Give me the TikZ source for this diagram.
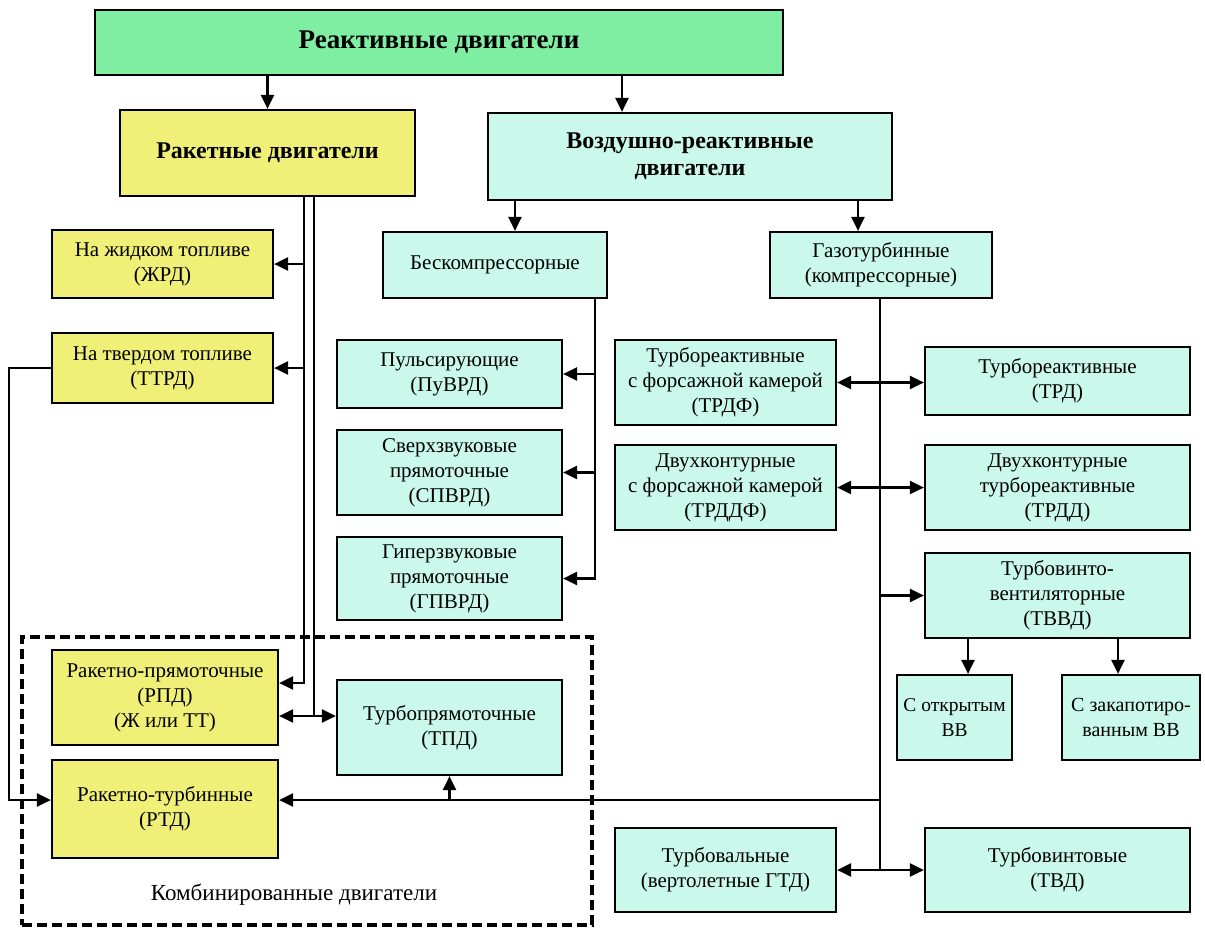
\documentclass[tikz,border=0pt]{standalone}
\usepackage{fontspec}
\setmainfont{Liberation Serif}
\usepackage{xcolor}
\definecolor{headgreen}{RGB}{128,238,162}
\definecolor{rockyellow}{RGB}{240,240,120}
\definecolor{airaqua}{RGB}{202,248,234}
\usetikzlibrary{arrows.meta,positioning,calc}
\tikzset{
  basebox/.style={draw, line width=2.2pt, align=center,
    inner sep=1pt, font=\fontsize{21}{25}\selectfont},
  yelbox/.style={basebox, fill=rockyellow},
  aquabox/.style={basebox, fill=airaqua},
  boldtxt/.style={font=\fontsize{24}{27}\selectfont\bfseries},
  arr/.style={-{Triangle[length=14pt,width=13pt]}, line width=2.3pt},
  darr/.style={{Triangle[length=14pt,width=13pt]}-{Triangle[length=14pt,width=13pt]}, line width=2.3pt},
  lin/.style={line width=2.3pt},
}

\begin{document}
\begin{tikzpicture}[x=1pt, y=-1pt]
  \useasboundingbox (0,0) rectangle (1205,927);

  % Main levels
  \node[basebox, fill=headgreen, minimum width=688, minimum height=65,
        font=\fontsize{27}{30}\selectfont\bfseries] (react) at (439,42.5)
    {Реактивные двигатели};
  \node[yelbox, boldtxt, minimum width=295, minimum height=86]
    (rocket) at (267.5,153) {Ракетные двигатели};
  \node[aquabox, boldtxt, minimum width=404, minimum height=87]
    (air) at (690,156.5) {Воздушно-реактивные\\двигатели};
  \node[aquabox, minimum width=224, minimum height=66] (nocomp) at (495,265)
    {Бескомпрессорные};
  \node[aquabox, minimum width=222, minimum height=66] (gasturb) at (881,265)
    {Газотурбинные\\(компрессорные)};

  % Rocket engines
  \node[yelbox, minimum width=221, minimum height=68] (zhrd) at (162.5,264)
    {На жидком топливе\\(ЖРД)};
  \node[yelbox, minimum width=221, minimum height=70] (ttrd) at (162.5,368)
    {На твердом топливе\\(ТТРД)};

  % Compressorless engines
  \node[aquabox, minimum width=225, minimum height=68] (puvrd) at (449.5,374)
    {Пульсирующие\\(ПуВРД)};
  \node[aquabox, minimum width=225, minimum height=85] (spvrd) at (449.5,472.5)
    {Сверхзвуковые\\прямоточные\\(СПВРД)};
  \node[aquabox, minimum width=225, minimum height=83] (gpvrd) at (449.5,578.5)
    {Гиперзвуковые\\прямоточные\\(ГПВРД)};

  % Gas turbine engines
  \node[aquabox, minimum width=221, minimum height=85] (trdf) at (725.5,382.5)
    {Турбореактивные\\с форсажной камерой\\(ТРДФ)};
  \node[aquabox, minimum width=265, minimum height=68] (trd) at (1057.5,381)
    {Турбореактивные\\(ТРД)};
  \node[aquabox, minimum width=221, minimum height=85] (trddf) at (725.5,487.5)
    {Двухконтурные\\с форсажной камерой\\(ТРДДФ)};
  \node[aquabox, minimum width=265, minimum height=85] (trdd) at (1057.5,487.5)
    {Двухконтурные\\турбореактивные\\(ТРДД)};
  \node[aquabox, minimum width=265, minimum height=85] (tvvd) at (1057.5,595.5)
    {Турбовинто-\\вентиляторные\\(ТВВД)};
  \node[aquabox, minimum width=115, minimum height=85,
        font=\fontsize{19.5}{25}\selectfont] (openfan) at (954.5,717.5)
    {С открытым\\ВВ};
  \node[aquabox, minimum width=138, minimum height=85,
        font=\fontsize{20}{25}\selectfont] (ductfan) at (1131,717.5)
    {С закапотиро-\\ванным ВВ};
  \node[aquabox, minimum width=221, minimum height=84] (tval) at (725.5,870)
    {Турбовальные\\(вертолетные ГТД)};
  \node[aquabox, minimum width=265, minimum height=84] (tvint) at (1057.5,870)
    {Турбовинтовые\\(ТВД)};

  % Combined engines
  \node[draw, line width=3.5pt, dash pattern=on 10pt off 5pt,
        minimum width=570, minimum height=288] (comb) at (307,781) {};
  \node[font=\fontsize{23}{27}\selectfont] (combtxt) at (294,895)
    {Комбинированные двигатели};
  \node[yelbox, minimum width=226, minimum height=95] (rpd) at (165,697.5)
    {Ракетно-прямоточные\\(РПД)\\(Ж или ТТ)};
  \node[aquabox, minimum width=225, minimum height=95] (tpd) at (449.5,727.5)
    {Турбопрямоточные\\(ТПД)};
  \node[yelbox, minimum width=226, minimum height=98] (rtd) at (165,809)
    {Ракетно-турбинные\\(РТД)};

  % Helper coordinates
  \coordinate (xair) at (622,0);
  \coordinate (xnc) at (515,0);
  \coordinate (xgt) at (858,0);
  \coordinate (xl) at (304,0);
  \coordinate (xr) at (314,0);
  \coordinate (xb) at (595,0);
  \coordinate (xo) at (968,0);
  \coordinate (xd) at (1118,0);
  \coordinate (ymix) at (0,716);
  \coordinate (jn) at (880,800);

  % Top arrows
  \draw[arr] (rocket.north |- react.south) -- (rocket.north);
  \draw[arr] (react.south -| xair) -- (air.north -| xair);
  \draw[arr] (air.south -| xnc) -- (nocomp.north -| xnc);
  \draw[arr] (air.south -| xgt) -- (gasturb.north -| xgt);

  % Rocket double line
  \draw[arr] (rocket.south -| xl) |- ([yshift=14.5pt]rpd.east);
  \draw[arr] (zhrd.east -| xl) -- (zhrd.east);
  \draw[arr] (ttrd.east -| xl) -- (ttrd.east);
  \draw[lin] (rocket.south -| xr) -- (xr |- ymix);
  \draw[darr] (rpd.east |- ymix) -- (tpd.west |- ymix);
  \draw[arr] (ttrd.west) -- ++(-42,0) |- ([yshift=9pt]rtd.west);

  % Compressorless branch
  \draw[arr] (nocomp.south -| xb) |- (gpvrd.east);
  \draw[arr] (puvrd.east -| xb) -- (puvrd.east);
  \draw[arr] (spvrd.east -| xb) -- (spvrd.east);

  % Gas turbine branch
  \draw[lin] (jn |- gasturb.south) -- (jn |- tval.east);
  \draw[darr] (trdf.east) -- (trd.west |- trdf.east);
  \draw[darr] (trddf.east) -- (trdd.west |- trddf.east);
  \draw[arr] (tvvd.west -| jn) -- (tvvd.west);
  \draw[arr] (tvvd.south -| xo) -- (openfan.north -| xo);
  \draw[arr] (tvvd.south -| xd) -- (ductfan.north -| xd);
  \draw[darr] (tval.east) -- (tvint.west);
  \draw[arr] (jn) -- (rtd.east |- jn);
  \draw[arr] (tpd.south |- jn) -- (tpd.south);
\end{tikzpicture}
\end{document}
